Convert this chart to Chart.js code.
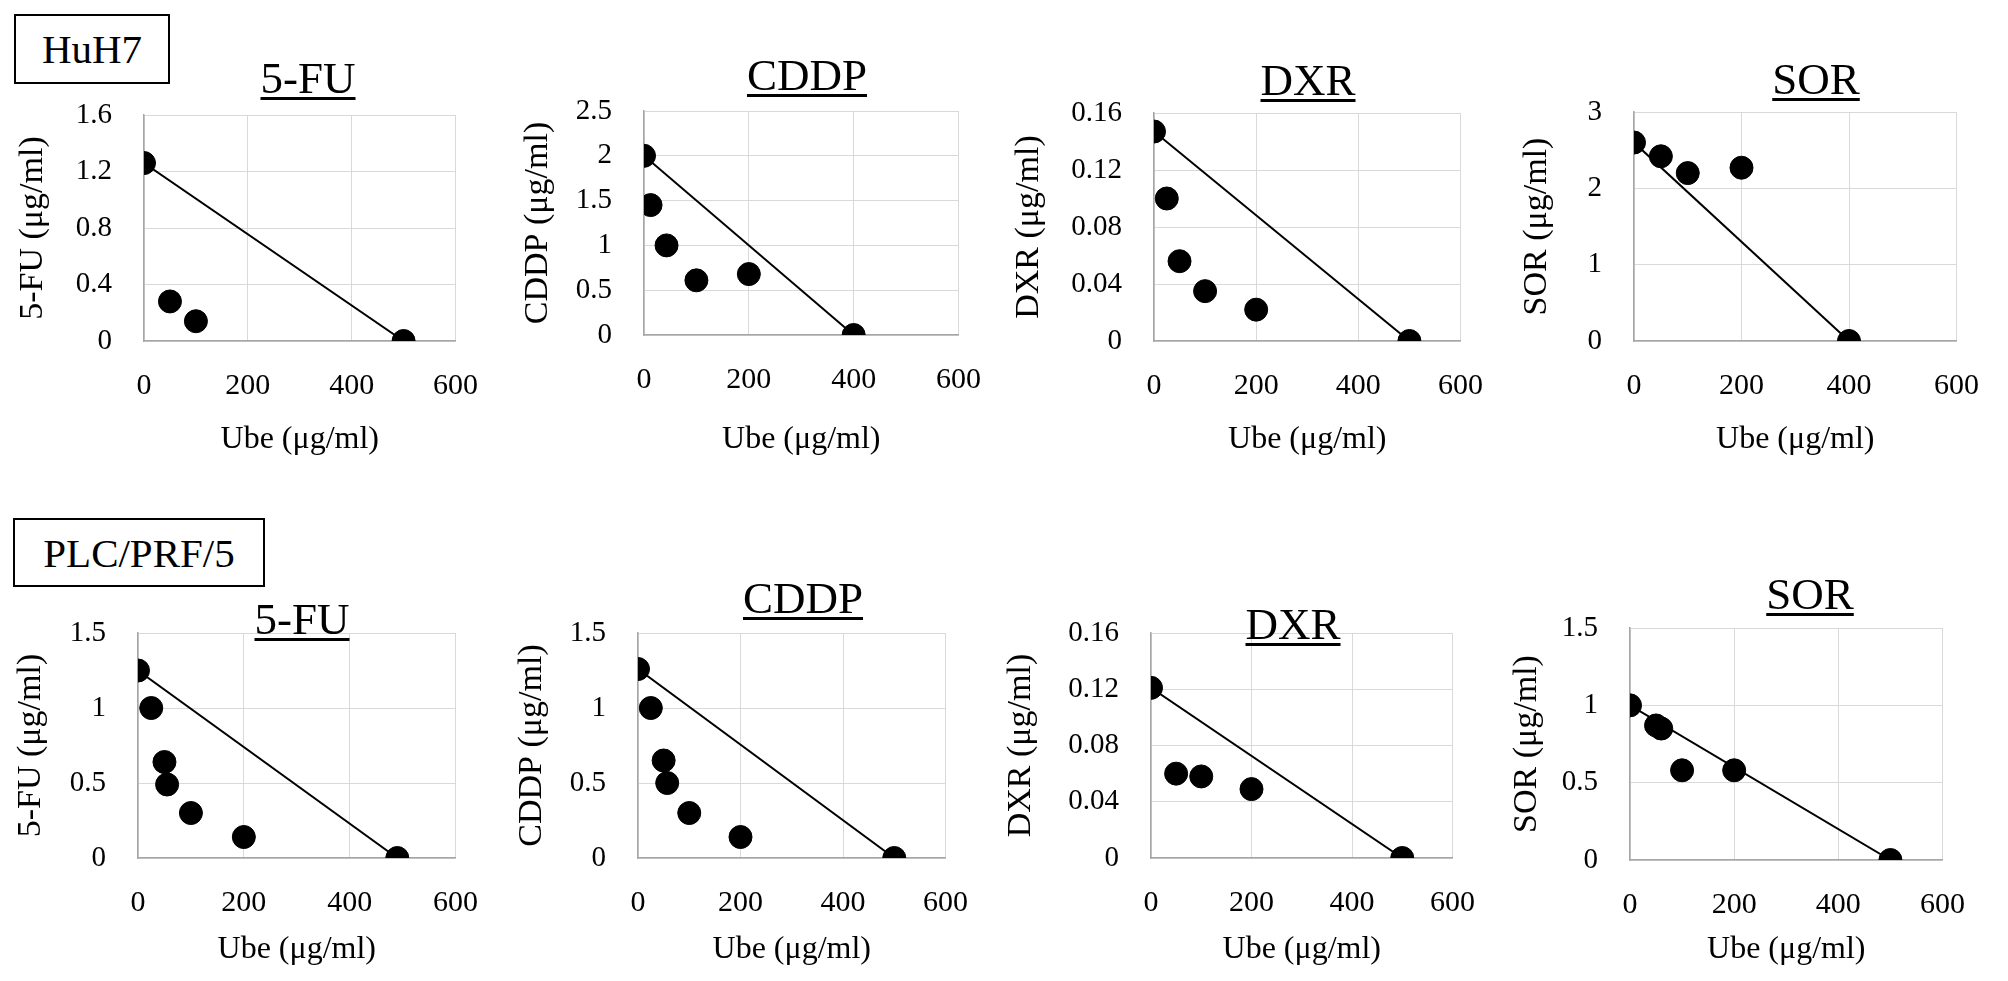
<!DOCTYPE html>
<html>
<head>
<meta charset="utf-8">
<script src="https://cdn.jsdelivr.net/npm/chart.js@4.4.1/dist/chart.umd.min.js"></script>
<style>
  body { margin: 0; background: #fff; }
  #page { position: relative; width: 2008px; height: 981px; overflow: hidden; font-family: "Liberation Serif", serif; }
  .cell { position: absolute; border: 2px solid #000; box-sizing: border-box; font-size: 41px;
          display: flex; align-items: center; justify-content: center; color: #000; }
  canvas { position: absolute; }
</style>
</head>
<body>
<div id="page">
  <div class="cell" style="left:14px;top:14px;width:156px;height:70px;">HuH7</div>
  <div class="cell" style="left:13px;top:518px;width:252px;height:69px;">PLC/PRF/5</div>
</div>
<script>
// drug names, one panel per drug in each row
const drugs = ["5-FU", "CDDP", "DXR", "SOR"];

// HuH7 row: Ube (µg/ml) vs drug (µg/ml)
const huh7Ube5FU = [0, 50, 100, 500];
const huh7Conc5FU = [1.26, 0.28, 0.14, 0];
const huh7UbeCDDP = [0, 12.5, 43, 100, 200, 400];
const huh7ConcCDDP = [2.0, 1.45, 1.0, 0.61, 0.68, 0];
const huh7UbeDXR = [0, 25, 50, 100, 200, 500];
const huh7ConcDXR = [0.147, 0.100, 0.056, 0.035, 0.022, 0];
const huh7UbeSOR = [0, 50, 100, 200, 400];
const huh7ConcSOR = [2.6, 2.42, 2.2, 2.27, 0];

// PLC/PRF/5 row
const plcUbe5FU = [0, 25, 50, 55, 100, 200, 490];
const plcConc5FU = [1.25, 1.0, 0.64, 0.49, 0.30, 0.14, 0];
const plcUbeCDDP = [0, 25, 50, 57, 100, 200, 500];
const plcConcCDDP = [1.26, 1.0, 0.65, 0.5, 0.3, 0.14, 0];
const plcUbeDXR = [0, 50, 100, 200, 500];
const plcConcDXR = [0.121, 0.06, 0.058, 0.049, 0];
const plcUbeSOR = [0, 50, 60, 100, 200, 500];
const plcConcSOR = [1.0, 0.87, 0.85, 0.58, 0.58, 0];

// axis ranges / ticks
const xTicks = [0, 200, 400, 600];
const yMaxHuh7 = [1.6, 2.5, 0.16, 3];
const yStepHuh7 = [0.4, 0.5, 0.04, 1];
const yMaxPlc = [1.5, 1.5, 0.16, 1.5];
const yStepPlc = [0.5, 0.5, 0.04, 0.5];

// page geometry of each panel:
// [plotLeft, plotTop, plotRight, plotBottom, yTitleX, xTitleY, titleX, titleY]
const geom = [
  [144, 115, 470, 341, 33, 440, 308, 78],
  [644, 111, 973, 335, 538, 440, 807, 75],
  [1154, 113, 1475, 341, 1029, 440, 1308, 80],
  [1634, 112, 1971, 341, 1537, 440, 1816, 79],
  [138, 633, 470, 858, 31, 950, 302, 619],
  [638, 633, 960, 858, 532, 950, 803, 598],
  [1151, 633, 1467, 858, 1021, 950, 1293, 624],
  [1630, 628, 1957, 860, 1527, 950, 1810, 594]
];

const ubeSets = [huh7Ube5FU, huh7UbeCDDP, huh7UbeDXR, huh7UbeSOR, plcUbe5FU, plcUbeCDDP, plcUbeDXR, plcUbeSOR];
const concSets = [huh7Conc5FU, huh7ConcCDDP, huh7ConcDXR, huh7ConcSOR, plcConc5FU, plcConcCDDP, plcConcDXR, plcConcSOR];
const yMaxAll = yMaxHuh7.concat(yMaxPlc);
const yStepAll = yStepHuh7.concat(yStepPlc);

const FONT = '"Liberation Serif", serif';

// draws the underlined drug name above each plot
const underlinedTitle = {
  id: 'underlinedTitle',
  afterDraw(chart, args, opts) {
    const ctx = chart.ctx;
    ctx.save();
    ctx.font = '45px ' + FONT;
    ctx.fillStyle = '#000';
    ctx.textAlign = 'center';
    ctx.textBaseline = 'alphabetic';
    const base = opts.y + 15;
    ctx.fillText(opts.text, opts.x, base);
    const w = ctx.measureText(opts.text).width;
    ctx.fillRect(opts.x - w / 2, base + 4, w, 3);
    ctx.restore();
  }
};

const page = document.getElementById('page');

geom.forEach((g, i) => {
  const [pl, pt, pr, pb, ytx, xty, tx, ty] = g;
  const drug = drugs[i % 4];
  const cl = ytx - 20, ct = ty - 45, cr = pr + 35, cb = xty + 25;
  const cw = cr - cl, ch = cb - ct;

  const canvas = document.createElement('canvas');
  canvas.width = cw;
  canvas.height = ch;
  canvas.style.left = cl + 'px';
  canvas.style.top = ct + 'px';
  canvas.style.width = cw + 'px';
  canvas.style.height = ch + 'px';
  page.appendChild(canvas);

  const ube = ubeSets[i], conc = concSets[i];
  const points = ube.map((u, k) => ({ x: u, y: conc[k] }));
  const last = points.length - 1;

  new Chart(canvas, {
    type: 'scatter',
    data: {
      datasets: [{
        data: points,
        pointRadius: 11.5,
        pointBackgroundColor: '#000',
        pointBorderColor: '#000',
        pointBorderWidth: 1,
        showLine: false
      }, {
        // additivity line between the single-agent points
        data: [points[0], points[last]],
        showLine: true,
        borderColor: '#000',
        borderWidth: 2,
        pointRadius: 0
      }]
    },
    options: {
      responsive: false,
      animation: false,
      layout: { padding: { top: pt - ct, right: 35, left: 0, bottom: 0 } },
      plugins: {
        legend: { display: false },
        tooltip: { enabled: false },
        underlinedTitle: { text: drug, x: tx - cl, y: ty - ct }
      },
      scales: {
        x: {
          type: 'linear',
          min: xTicks[0], max: xTicks[xTicks.length - 1],
          afterBuildTicks: s => { s.ticks = xTicks.map(v => ({ value: v })); },
          afterFit: s => { s.height = cb - pb; },
          grid: { color: '#d9d9d9', drawTicks: false },
          border: { color: '#a6a6a6', width: 1.5 },
          ticks: { color: '#000', padding: 27, font: { family: FONT, size: 30 } },
          title: { display: true, text: 'Ube (μg/ml)', color: '#000',
                   padding: { top: 0, bottom: 6 }, font: { family: FONT, size: 32 } }
        },
        y: {
          type: 'linear',
          min: 0, max: yMaxAll[i],
          ticks: {
            stepSize: yStepAll[i], color: '#000', padding: 32,
            font: { family: FONT, size: 29 },
            callback: v => String(Number(v.toFixed(4)))
          },
          afterFit: s => { s.width = pl - cl; },
          grid: { color: '#d9d9d9', drawTicks: false },
          border: { color: '#a6a6a6', width: 1.5 },
          title: { display: true, text: drug + ' (μg/ml)', color: '#000',
                   padding: 0, font: { family: FONT, size: 34 } }
        }
      }
    },
    plugins: [underlinedTitle]
  });
});
</script>
</body>
</html>
